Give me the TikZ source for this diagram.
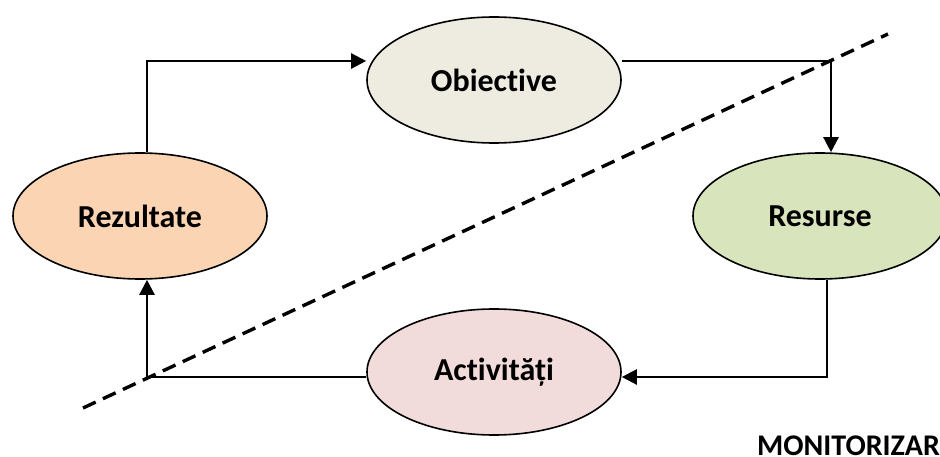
\documentclass[tikz,border=0pt]{standalone}
\usepackage{fontspec}
\setmainfont{Carlito}[Ligatures=NoCommon]
\usetikzlibrary{positioning,arrows.meta}
\usetikzlibrary{shapes.geometric}
\definecolor{obfill}{HTML}{EEECE1}
\definecolor{rzfill}{HTML}{FBD4B4}
\definecolor{rsfill}{HTML}{D7E4BC}
\definecolor{acfill}{HTML}{F2DCDB}
\tikzstyle{el}=[draw, ellipse, line width=1.6pt, inner sep=0pt, minimum width=254pt, minimum height=126pt, font=\bfseries\fontsize{32}{38}\selectfont]
\tikzstyle{conn}=[-{Triangle[length=15pt,width=15pt]}, line width=2.4pt]

\begin{document}
\begin{tikzpicture}[x=1pt, y=-1pt]
	\useasboundingbox (0,0) rectangle (940,457);
	\node[el, fill=obfill] (Ob) at (494, 80) {Obiective};
	\node[el, fill=rzfill] (Rz) at (140, 216) {Rezultate};
	\node[el, fill=rsfill] (Rs) at (820, 216) {Resurse};
	\node[el, fill=acfill] (Ac) at (494, 372) {Activități};

	\node[anchor=base west, font=\bfseries\fontsize{30}{36}\selectfont, inner sep=0pt] (Mo) at (757, 455) {MONITORIZARE};

	\coordinate (D1) at (83, 408);
	\coordinate (D2) at (888, 34);
	\draw[line width=3.4pt, dash pattern=on 14pt off 8pt] (D1) -- (D2);

	\draw[conn] ([xshift=7pt]Rz.north) |- ([yshift=19pt]Ob.west);
	\draw[conn] ([yshift=19pt]Ob.east) -| ([xshift=11pt]Rs.north);
	\draw[conn] ([xshift=7pt]Rs.south) |- ([yshift=-5pt]Ac.east);
	\draw[conn] ([yshift=-5pt]Ac.west) -| ([xshift=7pt]Rz.south);
\end{tikzpicture}
\end{document}
